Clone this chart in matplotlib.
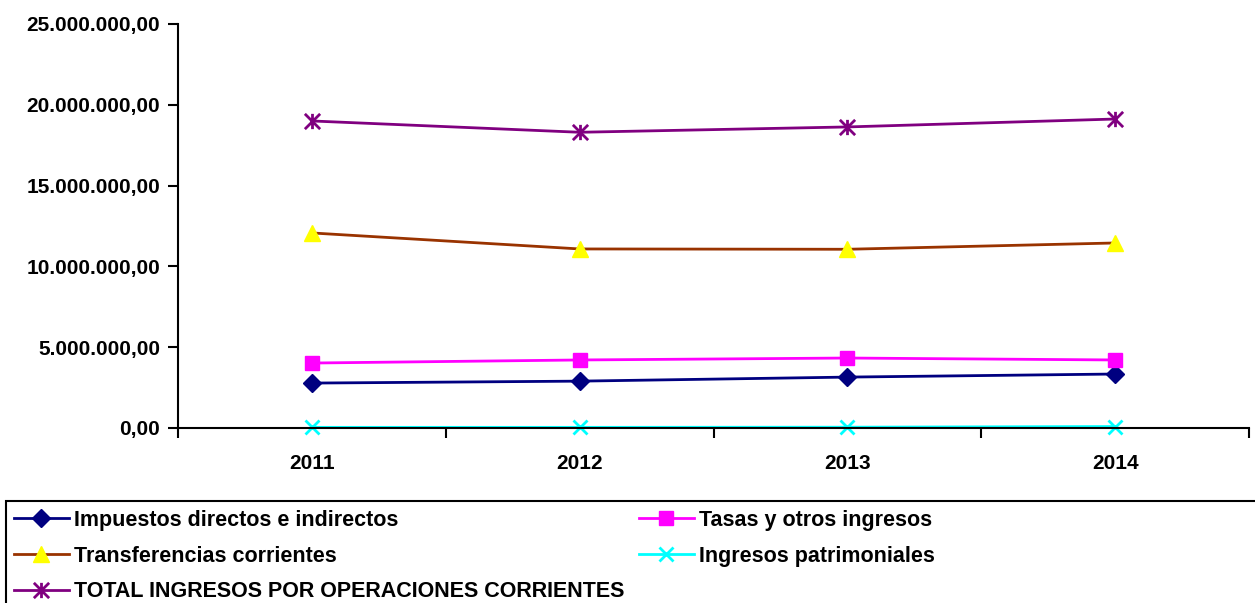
import matplotlib
matplotlib.use("Agg")
import matplotlib.pyplot as plt
from matplotlib.path import Path
from matplotlib.patches import Rectangle
from matplotlib.ticker import FuncFormatter, FixedLocator, NullFormatter

plt.rcParams['font.family'] = ['Liberation Sans', 'DejaVu Sans']
plt.rcParams['font.weight'] = 'bold'

years = ['2011', '2012', '2013', '2014']
impuestos = [2780000, 2900000, 3150000, 3340000]
tasas = [4020000, 4210000, 4330000, 4210000]
transferencias = [12070000, 11080000, 11060000, 11450000]
patrimoniales = [40000, 40000, 50000, 90000]
total = [19000000, 18300000, 18630000, 19120000]

labels = ['Impuestos directos e indirectos', 'Tasas y otros ingresos',
          'Transferencias corrientes', 'Ingresos patrimoniales',
          'TOTAL INGRESOS POR OPERACIONES CORRIENTES']

asterisk = Path([(0, -1), (0, 1), (-1, -1), (1, 1), (-1, 1), (1, -1)],
                [Path.MOVETO, Path.LINETO] * 3)

W, H = 1255, 603
fig = plt.figure(figsize=(W / 100, H / 100), dpi=100)
ax = fig.add_axes([178 / W, 1 - 428 / H, (1249 - 178) / W, (428 - 24) / H])

x = [i + 0.5 for i in range(len(years))]
lw = 2.0
h_imp, = ax.plot(x, impuestos, color='#000080', lw=lw, marker='D', ms=9,
                 mfc='#000080', mec='#000080', label=labels[0])
h_tas, = ax.plot(x, tasas, color='#FF00FF', lw=lw, marker='s', ms=10,
                 mfc='#FF00FF', mec='#FF00FF', label=labels[1])
h_tra, = ax.plot(x, transferencias, color='#993300', lw=lw, marker='^', ms=11,
                 mfc='#FFFF00', mec='#FFFF00', label=labels[2])
h_pat, = ax.plot(x, patrimoniales, color='#00FFFF', lw=lw, marker='x', ms=10,
                 mew=2, mec='#00FFFF', label=labels[3])
h_tot, = ax.plot(x, total, color='#800080', lw=lw, marker=asterisk, ms=11,
                 mew=2, mec='#800080', label=labels[4])
for h in (h_imp, h_tas, h_tra, h_pat, h_tot):
    h.set_clip_on(False)

ax.set_xlim(0, len(years))
ax.set_ylim(0, 25000000)
ax.set_yticks([0, 5000000, 10000000, 15000000, 20000000, 25000000])

def fmt(v, pos):
    s = f"{v:,.2f}"
    return s.replace(',', 'X').replace('.', ',').replace('X', '.')
ax.yaxis.set_major_formatter(FuncFormatter(fmt))

ax.xaxis.set_major_locator(FixedLocator(range(len(years) + 1)))
ax.xaxis.set_major_formatter(NullFormatter())
ax.set_xticks(x, minor=True)
ax.set_xticklabels(years, minor=True)
ax.tick_params(axis='x', which='major', direction='out', length=7, width=1.5)
ax.tick_params(axis='x', which='minor', length=0, pad=19, labelsize=15)
ax.tick_params(axis='y', direction='out', length=7, width=1.5, pad=6, labelsize=15)
for lab in ax.get_xticklabels(minor=True) + ax.get_yticklabels():
    lab.set_fontweight('bold')

for s in ('top', 'right'):
    ax.spines[s].set_visible(False)
for s in ('left', 'bottom'):
    ax.spines[s].set_linewidth(1.5)

common = dict(loc='upper left', frameon=False, handlelength=2.55,
              handletextpad=0.24, labelspacing=0.68, borderpad=0,
              borderaxespad=0, prop={'weight': 'bold', 'size': 15.5})
leg1 = fig.legend(handles=[h_imp, h_tra, h_tot],
                  bbox_to_anchor=(14 / W, 1 - 510 / H), **common)
leg2 = fig.legend(handles=[h_tas, h_pat],
                  bbox_to_anchor=(639 / W, 1 - 510 / H), **common)

fig.patches.append(Rectangle((6 / W, -0.2), 1.2, 0.2 + (1 - 501 / H),
                             transform=fig.transFigure, fill=False,
                             lw=1.5, ec='black'))

fig.savefig('out.png', dpi=100)
